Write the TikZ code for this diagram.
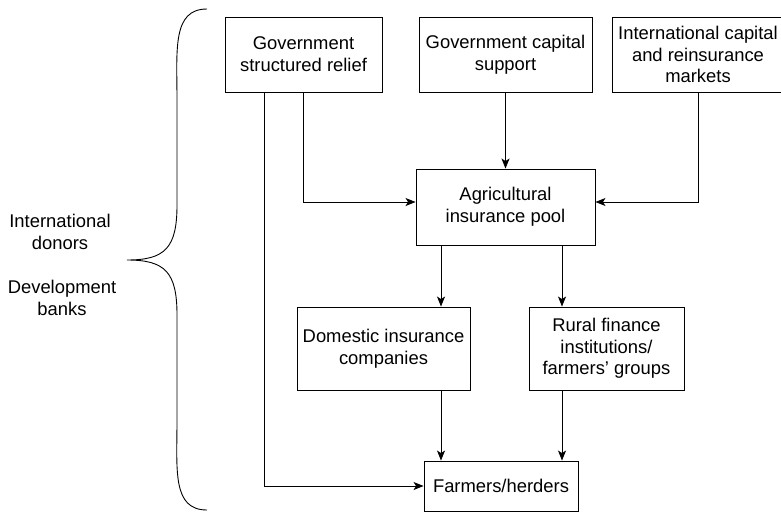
\documentclass[tikz,border=0pt]{standalone}
\usepackage{fontspec}
\setmainfont{Liberation Sans}
\usetikzlibrary{arrows.meta}
\begin{document}
\begin{tikzpicture}[x=1pt,y=-1pt,line width=0.9pt,
    box/.style={draw,rectangle,align=center,inner sep=0pt,font=\fontsize{18.4}{21.7}\selectfont},
    lbl/.style={align=center,inner sep=0pt,font=\fontsize{18.4}{21.7}\selectfont},
    arr/.style={-{Stealth[length=10pt,width=8pt,inset=2.5pt]}}]
\clip (0,0) rectangle (781,512);
% top row
\node[box,minimum width=157pt,minimum height=75pt] (relief) at (303.5,54.5) {Government\\structured relief};
\node[box,minimum width=173pt,minimum height=75pt] (capital) at (505.5,54.5) {Government capital\\support};
\node[box,minimum width=172pt,minimum height=75pt] (intl) at (698,54.5) {International capital\\and reinsurance\\markets};
% middle
\node[box,minimum width=179pt,minimum height=76pt] (pool) at (505.5,207) {Agricultural\\insurance pool};
\node[box,minimum width=173pt,minimum height=83pt] (domestic) at (383.5,348.5) {Domestic insurance\\companies};
\node[box,minimum width=155pt,minimum height=83pt] (rural) at (606.5,348.5) {Rural finance\\institutions/\\farmers' groups};
\node[box,minimum width=154pt,minimum height=50pt] (farmers) at (501,486) {Farmers/herders};
% left labels and brace
\node[lbl] (donors) at (60,232) {International\\donors};
\node[lbl] (banks) at (62,298) {Development\\banks};
\draw (207,9) .. controls (172,9) and (177,50) .. (177,100) -- (177,205)
      .. controls (177,248) and (165,260) .. (127,260)
      .. controls (165,260) and (177,272) .. (177,315) -- (177,420)
      .. controls (177,470) and (172,510) .. (207,510);
% connectors
\coordinate (reliefleg) at (264,92);
\coordinate (poolL) at ([xshift=-64.5pt]pool.south);
\coordinate (poolR) at ([xshift=56.5pt]pool.south);
\draw[arr] (relief.south) |- ([yshift=5pt]pool.west);
\draw[arr] (reliefleg) |- (farmers.west);
\draw[arr] (capital.south) -- (pool.north);
\draw[arr] (intl.south) |- ([yshift=5pt]pool.east);
\draw[arr] (poolL) -- (poolL |- domestic.north);
\draw[arr] (poolR) -- (poolR |- rural.north);
\draw[arr] (poolL |- domestic.south) -- (poolL |- farmers.north);
\draw[arr] (poolR |- rural.south) -- (poolR |- farmers.north);
\end{tikzpicture}
\end{document}
